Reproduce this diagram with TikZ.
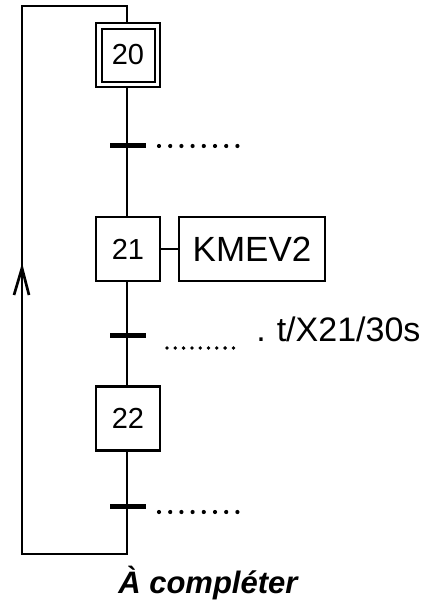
\documentclass[tikz,border=0pt]{standalone}
\usepackage{fontspec}
\setmainfont{Liberation Sans}
\begin{document}
\begin{tikzpicture}[x=1pt,y=-1pt,line width=2.7pt,
  stepbox/.style={draw,minimum width=64pt,minimum height=64pt,inner sep=0pt,font=\fontsize{29}{29}\selectfont},
  innerbox/.style={draw,minimum width=53pt,minimum height=53pt,inner sep=0pt},
  actbox/.style={draw,minimum width=146pt,minimum height=64pt,inner sep=0pt,font=\fontsize{35}{35}\selectfont},
  transbar/.style={line width=5pt},
  dotmark/.style={fill=black,draw=none}]
\useasboundingbox (0,0) rectangle (421,604);
% steps
\node[stepbox] (s20) at (128,55) {20};
\node[innerbox] (s20i) at (128.5,55.5) {};
\node[stepbox] (s21) at (128,249) {21};
\node[stepbox] (s22) at (128,418.5) {22};
\node[actbox] (a21) at (252,249) {KMEV2};
% coordinates
\coordinate (t1) at (127,146);
\coordinate (t2) at (127,335);
\coordinate (t3) at (127,506);
\coordinate (br) at (127,554);
\coordinate (bl) at (22,554);
\coordinate (tl) at (22,6);
\coordinate (tr) at (127,6);
\coordinate (ar) at (22,268);
% vertical links
\draw (s20.south -| t1) -- (t1) -- (s21.north -| t1);
\draw (s21.south -| t2) -- (t2) -- (s22.north -| t2);
\draw (s22.south -| t3) -- (t3) -- (br) -- (bl) -- (tl) -- (tr) -- (s20.north -| tr);
\draw (s21.east) -- (a21.west);
% arrow head on return line
\draw ([xshift=-8pt,yshift=-27pt]ar) -- (ar) -- ([xshift=7pt,yshift=-27pt]ar);
% transitions
\draw[transbar] ([xshift=-17pt]t1) -- ([xshift=19pt]t1);
\draw[transbar] ([xshift=-17pt]t2) -- ([xshift=19pt]t2);
\draw[transbar] ([xshift=-17pt]t3) -- ([xshift=19pt]t3);
% receptivities
\foreach \i in {0,...,7} \fill[dotmark] (159+11.2*\i,146) circle (2.1pt);
\foreach \i in {0,...,8} \fill[dotmark] (167+8.3*\i,348) circle (1.9pt);
\foreach \i in {0,...,7} \fill[dotmark] (159+11.2*\i,512) circle (2.1pt);
\node[anchor=base west,inner sep=0pt,font=\fontsize{34}{34}\selectfont] (r2) at (255,341) {.\hspace{11pt}t/X21/30s};
\node[anchor=base west,inner sep=0pt,font=\fontsize{31}{31}\selectfont\bfseries\itshape] (lbl) at (117,593) {À compléter};
\end{tikzpicture}
\end{document}
